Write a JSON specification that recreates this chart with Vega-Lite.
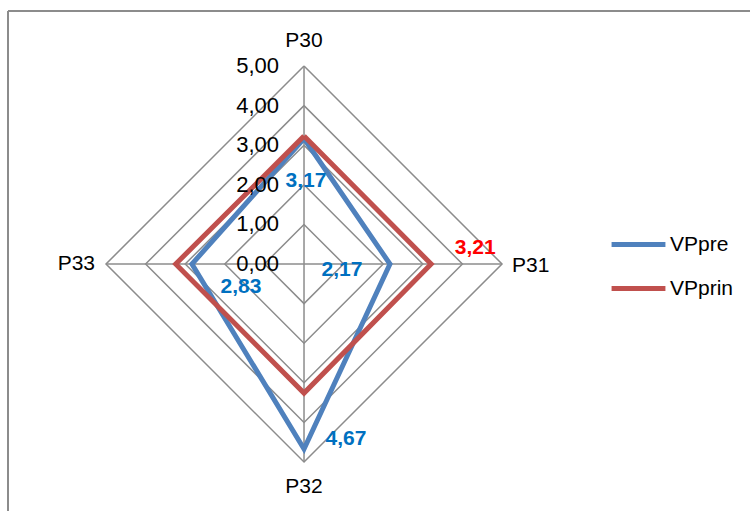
{
  "$schema": "https://vega.github.io/schema/vega-lite/v6.json",
  "width": 742,
  "height": 500,
  "autosize": "none",
  "padding": {"left": 8, "top": 11, "right": 0, "bottom": 0},
  "background": "white",
  "config": {
    "view": {"stroke": null},
    "locale": {"number": {"decimal": ",", "thousands": ".", "grouping": [3], "currency": ["", " €"]}},
    "font": "Liberation Sans"
  },
  "datasets": {
    "series": [
      {"series": "VPpre", "axis": "P30", "ord": 0, "value": 3.17},
      {"series": "VPpre", "axis": "P31", "ord": 1, "value": 2.17},
      {"series": "VPpre", "axis": "P32", "ord": 2, "value": 4.67},
      {"series": "VPpre", "axis": "P33", "ord": 3, "value": 2.83},
      {"series": "VPpre", "axis": "P30", "ord": 4, "value": 3.17},
      {"series": "VPprin", "axis": "P30", "ord": 0, "value": 3.23},
      {"series": "VPprin", "axis": "P31", "ord": 1, "value": 3.21},
      {"series": "VPprin", "axis": "P32", "ord": 2, "value": 3.26},
      {"series": "VPprin", "axis": "P33", "ord": 3, "value": 3.24},
      {"series": "VPprin", "axis": "P30", "ord": 4, "value": 3.23}
    ],
    "grid": [
      {"level": 1, "axis": "P30", "ord": 0, "value": 1}, {"level": 1, "axis": "P31", "ord": 1, "value": 1}, {"level": 1, "axis": "P32", "ord": 2, "value": 1}, {"level": 1, "axis": "P33", "ord": 3, "value": 1}, {"level": 1, "axis": "P30", "ord": 4, "value": 1},
      {"level": 2, "axis": "P30", "ord": 0, "value": 2}, {"level": 2, "axis": "P31", "ord": 1, "value": 2}, {"level": 2, "axis": "P32", "ord": 2, "value": 2}, {"level": 2, "axis": "P33", "ord": 3, "value": 2}, {"level": 2, "axis": "P30", "ord": 4, "value": 2},
      {"level": 3, "axis": "P30", "ord": 0, "value": 3}, {"level": 3, "axis": "P31", "ord": 1, "value": 3}, {"level": 3, "axis": "P32", "ord": 2, "value": 3}, {"level": 3, "axis": "P33", "ord": 3, "value": 3}, {"level": 3, "axis": "P30", "ord": 4, "value": 3},
      {"level": 4, "axis": "P30", "ord": 0, "value": 4}, {"level": 4, "axis": "P31", "ord": 1, "value": 4}, {"level": 4, "axis": "P32", "ord": 2, "value": 4}, {"level": 4, "axis": "P33", "ord": 3, "value": 4}, {"level": 4, "axis": "P30", "ord": 4, "value": 4},
      {"level": 5, "axis": "P30", "ord": 0, "value": 5}, {"level": 5, "axis": "P31", "ord": 1, "value": 5}, {"level": 5, "axis": "P32", "ord": 2, "value": 5}, {"level": 5, "axis": "P33", "ord": 3, "value": 5}, {"level": 5, "axis": "P30", "ord": 4, "value": 5}
    ],
    "spokes": [
      {"axis": "P30", "value": 5}, {"axis": "P31", "value": 5}, {"axis": "P32", "value": 5}, {"axis": "P33", "value": 5}
    ],
    "ticks": [
      {"axis": "P30", "value": 0}, {"axis": "P30", "value": 1}, {"axis": "P30", "value": 2}, {"axis": "P30", "value": 3}, {"axis": "P30", "value": 4}, {"axis": "P30", "value": 5}
    ],
    "frame": [{"edge": "frame"}]
  },
  "layer": [
    {
      "data": {"name": "grid"},
      "transform": [
        {"calculate": "datum.axis == 'P31' ? datum.value : (datum.axis == 'P33' ? -datum.value : 0)", "as": "x"},
        {"calculate": "datum.axis == 'P30' ? datum.value : (datum.axis == 'P32' ? -datum.value : 0)", "as": "y"}
      ],
      "mark": {"type": "line", "stroke": "#8c8c8c", "strokeWidth": 1.5, "strokeJoin": "miter"},
      "encoding": {
        "x": {"field": "x", "type": "quantitative", "scale": {"domain": [-7.475, 11.262], "nice": false, "zero": false}, "axis": null},
        "y": {"field": "y", "type": "quantitative", "scale": {"domain": [-6.237, 6.389], "nice": false, "zero": false}, "axis": null},
        "detail": {"field": "level"},
        "order": {"field": "ord"}
      }
    },
    {
      "data": {"name": "frame"},
      "mark": {"type": "rule", "stroke": "#8c8c8c", "strokeWidth": 2},
      "encoding": {"x": {"datum": -7.475, "type": "quantitative"}}
    },
    {
      "data": {"name": "frame"},
      "mark": {"type": "rule", "stroke": "#8c8c8c", "strokeWidth": 2},
      "encoding": {"y": {"datum": 6.389, "type": "quantitative"}}
    },
    {
      "data": {"name": "spokes"},
      "transform": [
        {"calculate": "datum.axis == 'P31' ? datum.value : (datum.axis == 'P33' ? -datum.value : 0)", "as": "x"},
        {"calculate": "datum.axis == 'P30' ? datum.value : (datum.axis == 'P32' ? -datum.value : 0)", "as": "y"}
      ],
      "mark": {"type": "rule", "stroke": "#8c8c8c", "strokeWidth": 1.5},
      "encoding": {
        "x": {"field": "x", "type": "quantitative"},
        "y": {"field": "y", "type": "quantitative"},
        "x2": {"datum": 0},
        "y2": {"datum": 0}
      }
    },
    {
      "data": {"name": "series"},
      "transform": [
        {"calculate": "datum.axis == 'P31' ? datum.value : (datum.axis == 'P33' ? -datum.value : 0)", "as": "x"},
        {"calculate": "datum.axis == 'P30' ? datum.value : (datum.axis == 'P32' ? -datum.value : 0)", "as": "y"}
      ],
      "mark": {"type": "line", "strokeWidth": 5, "strokeJoin": "miter", "strokeCap": "butt"},
      "encoding": {
        "x": {"field": "x", "type": "quantitative"},
        "y": {"field": "y", "type": "quantitative"},
        "order": {"field": "ord"},
        "color": {
          "field": "series", "type": "nominal",
          "scale": {"domain": ["VPpre", "VPprin"], "range": ["#4f81bd", "#c0504d"]},
          "legend": {
            "title": null, "orient": "none", "legendX": 601, "legendY": 204,
            "symbolType": "stroke", "symbolSize": 2900, "symbolStrokeWidth": 5,
            "labelFontSize": 21, "labelFont": "Liberation Sans", "labelColor": "#000000",
            "labelOffset": 2, "rowPadding": 4, "padding": 0
          }
        }
      }
    },
    {
      "data": {"name": "ticks"},
      "mark": {"type": "text", "align": "right", "baseline": "middle", "dx": -25, "fontSize": 22, "color": "#000000"},
      "encoding": {
        "x": {"datum": 0, "type": "quantitative"},
        "y": {"field": "value", "type": "quantitative"},
        "text": {"field": "value", "type": "quantitative", "format": ".2f"}
      }
    },
    {
      "data": {"name": "spokes"},
      "transform": [{"filter": "datum.axis == 'P30'"}],
      "mark": {"type": "text", "align": "center", "baseline": "middle", "dy": -25, "fontSize": 21, "color": "#000000"},
      "encoding": {"x": {"datum": 0, "type": "quantitative"}, "y": {"field": "value", "type": "quantitative"}, "text": {"field": "axis"}}
    },
    {
      "data": {"name": "spokes"},
      "transform": [{"filter": "datum.axis == 'P32'"}, {"calculate": "-datum.value", "as": "y"}],
      "mark": {"type": "text", "align": "center", "baseline": "middle", "dy": 25, "fontSize": 21, "color": "#000000"},
      "encoding": {"x": {"datum": 0, "type": "quantitative"}, "y": {"field": "y", "type": "quantitative"}, "text": {"field": "axis"}}
    },
    {
      "data": {"name": "spokes"},
      "transform": [{"filter": "datum.axis == 'P31'"}],
      "mark": {"type": "text", "align": "left", "baseline": "middle", "dx": 10, "dy": 2, "fontSize": 21, "color": "#000000"},
      "encoding": {"x": {"field": "value", "type": "quantitative"}, "y": {"datum": 0, "type": "quantitative"}, "text": {"field": "axis"}}
    },
    {
      "data": {"name": "spokes"},
      "transform": [{"filter": "datum.axis == 'P33'"}, {"calculate": "-datum.value", "as": "x"}],
      "mark": {"type": "text", "align": "right", "baseline": "middle", "dx": -11, "fontSize": 21, "color": "#000000"},
      "encoding": {"x": {"field": "x", "type": "quantitative"}, "y": {"datum": 0, "type": "quantitative"}, "text": {"field": "axis"}}
    },
    {
      "data": {"name": "series"},
      "transform": [{"filter": "datum.series == 'VPpre' && datum.axis == 'P30' && datum.ord == 0"}],
      "mark": {"type": "text", "align": "center", "baseline": "middle", "dx": 2, "dy": 43, "fontSize": 21, "fontWeight": "bold", "color": "#0070c0"},
      "encoding": {"x": {"datum": 0, "type": "quantitative"}, "y": {"field": "value", "type": "quantitative"}, "text": {"field": "value", "type": "quantitative", "format": ".2f"}}
    },
    {
      "data": {"name": "series"},
      "transform": [{"filter": "datum.series == 'VPpre' && datum.axis == 'P31'"}],
      "mark": {"type": "text", "align": "center", "baseline": "middle", "dx": -48, "dy": 6, "fontSize": 21, "fontWeight": "bold", "color": "#0070c0"},
      "encoding": {"x": {"field": "value", "type": "quantitative"}, "y": {"datum": 0, "type": "quantitative"}, "text": {"field": "value", "type": "quantitative", "format": ".2f"}}
    },
    {
      "data": {"name": "series"},
      "transform": [{"filter": "datum.series == 'VPpre' && datum.axis == 'P32'"}, {"calculate": "-datum.value", "as": "y"}],
      "mark": {"type": "text", "align": "center", "baseline": "middle", "dx": 42, "dy": -10, "fontSize": 21, "fontWeight": "bold", "color": "#0070c0"},
      "encoding": {"x": {"datum": 0, "type": "quantitative"}, "y": {"field": "y", "type": "quantitative"}, "text": {"field": "value", "type": "quantitative", "format": ".2f"}}
    },
    {
      "data": {"name": "series"},
      "transform": [{"filter": "datum.series == 'VPpre' && datum.axis == 'P33'"}, {"calculate": "-datum.value", "as": "x"}],
      "mark": {"type": "text", "align": "center", "baseline": "middle", "dx": 49, "dy": 23, "fontSize": 21, "fontWeight": "bold", "color": "#0070c0"},
      "encoding": {"x": {"field": "x", "type": "quantitative"}, "y": {"datum": 0, "type": "quantitative"}, "text": {"field": "value", "type": "quantitative", "format": ".2f"}}
    },
    {
      "data": {"name": "series"},
      "transform": [{"filter": "datum.series == 'VPprin' && datum.axis == 'P31'"}],
      "mark": {"type": "text", "align": "center", "baseline": "middle", "dx": 44, "dy": -16, "fontSize": 21, "fontWeight": "bold", "color": "#ff0000"},
      "encoding": {"x": {"field": "value", "type": "quantitative"}, "y": {"datum": 0, "type": "quantitative"}, "text": {"field": "value", "type": "quantitative", "format": ".2f"}}
    }
  ]
}
